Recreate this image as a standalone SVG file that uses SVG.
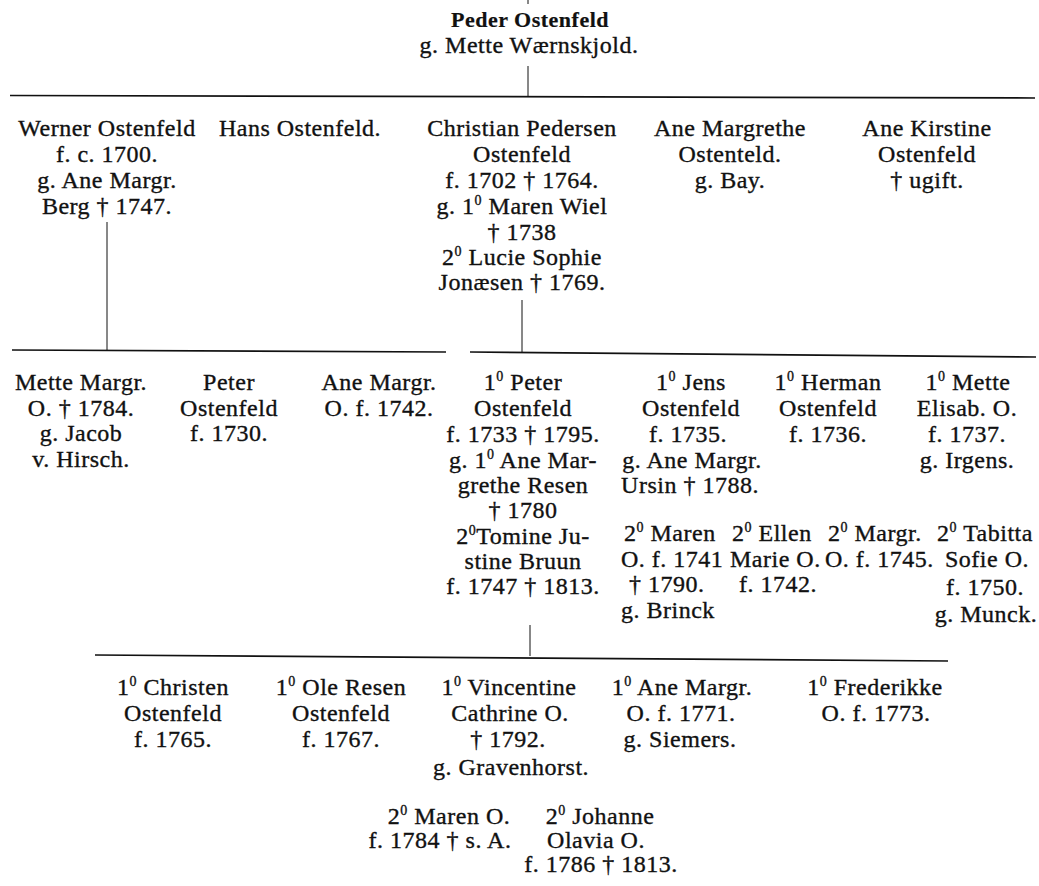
<svg xmlns="http://www.w3.org/2000/svg" width="1039" height="886" viewBox="0 0 1039 886">
<style>
text{font-family:"Liberation Serif","DejaVu Serif",serif;font-size:24px;fill:#111;stroke:#111;stroke-width:0.35;text-anchor:middle;letter-spacing:0.5px}
.st{text-anchor:start}
.title{font-weight:bold;font-size:22px;stroke-width:0.2}
.sup{font-size:14px}
.hl{stroke:#111;stroke-width:1.7;fill:none}
.vl{stroke:#111;stroke-width:1;fill:none}
</style>
<rect width="1039" height="886" fill="#fff"/>
<g id="connectors">
<line class="vl" x1="528" y1="0" x2="528" y2="4"/>
<line class="vl" x1="528" y1="66" x2="528" y2="96"/>
<line class="hl" x1="10" y1="95.5" x2="1035" y2="98"/>
<line class="vl" x1="107" y1="222" x2="107" y2="350"/>
<line class="vl" x1="522" y1="300" x2="522" y2="352"/>
<line class="hl" x1="12" y1="350" x2="446" y2="352"/>
<line class="hl" x1="470" y1="352" x2="1036" y2="357"/>
<line class="vl" x1="530" y1="625" x2="530" y2="656"/>
<line class="hl" x1="95" y1="655" x2="948" y2="661"/>
</g>
<g id="n-peder">
<text class="title" x="530" y="27">Peder Ostenfeld</text>
<text x="529" y="53">g. Mette Wærnskjold.</text>
</g>
<g id="n-werner">
<text x="107" y="136">Werner Ostenfeld</text>
<text x="107" y="162">f. c. 1700.</text>
<text x="107" y="188">g. Ane Margr.</text>
<text x="107" y="214">Berg † 1747.</text>
</g>
<g id="n-hans">
<text x="300" y="136">Hans Ostenfeld.</text>
</g>
<g id="n-christian">
<text x="522" y="136">Christian Pedersen</text>
<text x="522" y="162">Ostenfeld</text>
<text x="522" y="188">f. 1702 † 1764.</text>
<text x="522" y="214">g. 1<tspan class="sup" dy="-9">0</tspan><tspan dy="9"> Maren Wiel</tspan></text>
<text x="522" y="239.5">† 1738</text>
<text x="522" y="265">2<tspan class="sup" dy="-9">0</tspan><tspan dy="9"> Lucie Sophie</tspan></text>
<text x="522" y="290">Jonæsen † 1769.</text>
</g>
<g id="n-anemargrethe">
<text x="730" y="136">Ane Margrethe</text>
<text x="730" y="162">Ostenteld.</text>
<text x="730" y="188">g. Bay.</text>
</g>
<g id="n-anekirstine">
<text x="927" y="136">Ane Kirstine</text>
<text x="927" y="162">Ostenfeld</text>
<text x="927" y="188">† ugift.</text>
</g>
<g id="n-mette">
<text x="81" y="390">Mette Margr.</text>
<text x="81" y="415.5">O. † 1784.</text>
<text x="81" y="441">g. Jacob</text>
<text x="81" y="467">v. Hirsch.</text>
</g>
<g id="n-peter1730">
<text x="229" y="390">Peter</text>
<text x="229" y="415.5">Ostenfeld</text>
<text x="229" y="441">f. 1730.</text>
</g>
<g id="n-anemargr1742">
<text x="379" y="390">Ane Margr.</text>
<text x="379" y="415.5">O. f. 1742.</text>
</g>
<g id="n-peter1733">
<text x="523" y="390">1<tspan class="sup" dy="-9">0</tspan><tspan dy="9"> Peter</tspan></text>
<text x="523" y="416">Ostenfeld</text>
<text x="523" y="442">f. 1733 † 1795.</text>
<text x="523" y="467.5">g. 1<tspan class="sup" dy="-9">0</tspan><tspan dy="9"> Ane Mar-</tspan></text>
<text x="523" y="493">grethe Resen</text>
<text x="523" y="518">† 1780</text>
<text x="523" y="543.5">2<tspan class="sup" dy="-9">0</tspan><tspan dy="9">Tomine Ju-</tspan></text>
<text x="523" y="569">stine Bruun</text>
<text x="523" y="594">f. 1747 † 1813.</text>
</g>
<g id="n-jens">
<text x="691" y="390">1<tspan class="sup" dy="-9">0</tspan><tspan dy="9"> Jens</tspan></text>
<text x="691" y="416">Ostenfeld</text>
<text x="688" y="442">f. 1735.</text>
<text x="692" y="467.5">g. Ane Margr.</text>
<text x="690" y="493">Ursin † 1788.</text>
</g>
<g id="n-herman">
<text x="828" y="390">1<tspan class="sup" dy="-9">0</tspan><tspan dy="9"> Herman</tspan></text>
<text x="828" y="416">Ostenfeld</text>
<text x="828" y="442">f. 1736.</text>
</g>
<g id="n-metteelisab">
<text x="968" y="390">1<tspan class="sup" dy="-9">0</tspan><tspan dy="9"> Mette</tspan></text>
<text x="967" y="416">Elisab. O.</text>
<text x="967" y="442">f. 1737.</text>
<text x="967" y="467.5">g. Irgens.</text>
</g>
<g id="n-maren1741">
<text class="st" x="624" y="541">2<tspan class="sup" dy="-9">0</tspan><tspan dy="9"> Maren</tspan></text>
<text class="st" x="621" y="566.5">O. f. 1741</text>
<text class="st" x="629" y="592">† 1790.</text>
<text class="st" x="621" y="617.5">g. Brinck</text>
</g>
<g id="n-ellen">
<text class="st" x="732" y="541">2<tspan class="sup" dy="-9">0</tspan><tspan dy="9"> Ellen</tspan></text>
<text class="st" x="730" y="566.5">Marie O.</text>
<text class="st" x="739" y="592">f. 1742.</text>
</g>
<g id="n-margr1745">
<text class="st" x="828" y="541">2<tspan class="sup" dy="-9">0</tspan><tspan dy="9"> Margr.</tspan></text>
<text class="st" x="825" y="566.5">O. f. 1745.</text>
</g>
<g id="n-tabitta">
<text x="985" y="541">2<tspan class="sup" dy="-9">0</tspan><tspan dy="9"> Tabitta</tspan></text>
<text x="987" y="566.5">Sofie O.</text>
<text x="985" y="595">f. 1750.</text>
<text x="986" y="622">g. Munck.</text>
</g>
<g id="n-christen">
<text x="173" y="695">1<tspan class="sup" dy="-9">0</tspan><tspan dy="9"> Christen</tspan></text>
<text x="173" y="721">Ostenfeld</text>
<text x="173" y="747">f. 1765.</text>
</g>
<g id="n-oleresen">
<text x="341" y="695">1<tspan class="sup" dy="-9">0</tspan><tspan dy="9"> Ole Resen</tspan></text>
<text x="341" y="721">Ostenfeld</text>
<text x="341" y="747">f. 1767.</text>
</g>
<g id="n-vincentine">
<text x="509" y="695">1<tspan class="sup" dy="-9">0</tspan><tspan dy="9"> Vincentine</tspan></text>
<text x="510" y="721">Cathrine O.</text>
<text x="508" y="747">† 1792.</text>
<text x="511" y="775">g. Gravenhorst.</text>
</g>
<g id="n-anemargr1771">
<text x="682" y="695">1<tspan class="sup" dy="-9">0</tspan><tspan dy="9"> Ane Margr.</tspan></text>
<text x="681" y="721">O. f. 1771.</text>
<text x="680" y="747">g. Siemers.</text>
</g>
<g id="n-frederikke">
<text x="875" y="695">1<tspan class="sup" dy="-9">0</tspan><tspan dy="9"> Frederikke</tspan></text>
<text x="876" y="721">O. f. 1773.</text>
</g>
<g id="n-maren1784">
<text x="449" y="824">2<tspan class="sup" dy="-9">0</tspan><tspan dy="9"> Maren O.</tspan></text>
<text x="440" y="848">f. 1784 † s. A.</text>
</g>
<g id="n-johanne">
<text x="600" y="824">2<tspan class="sup" dy="-9">0</tspan><tspan dy="9"> Johanne</tspan></text>
<text x="596" y="848">Olavia O.</text>
<text x="601" y="872">f. 1786 † 1813.</text>
</g>
</svg>
